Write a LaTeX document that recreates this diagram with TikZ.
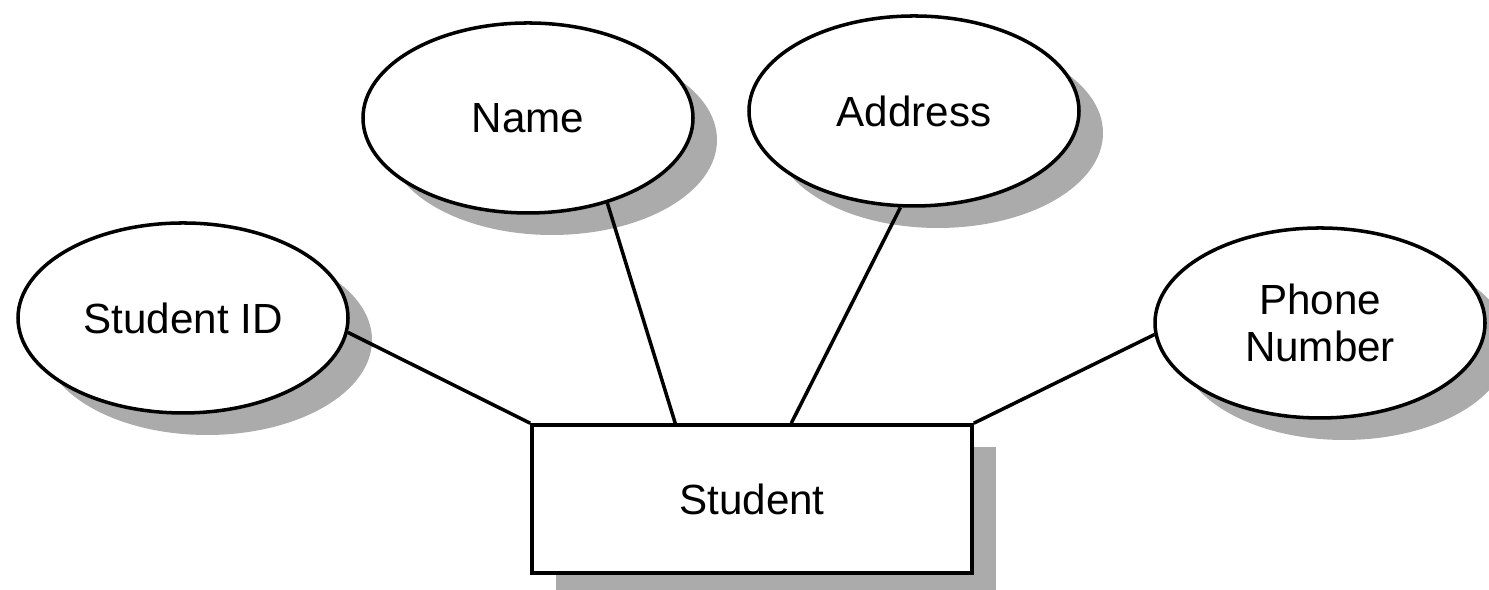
\documentclass[tikz,border=0pt]{standalone}
\usepackage{fontspec}
\setmainfont{Liberation Sans}
\usetikzlibrary{positioning,shapes.geometric,shadows}
\tikzset{
  shd/.style={drop shadow={shadow xshift=0.24cm,shadow yshift=-0.22cm,fill=black!33,opacity=1}},
  attr/.style={ellipse,draw,line width=1pt,fill=white,shd,minimum width=3.3cm,minimum height=1.9cm,inner sep=0pt,align=center,font=\fontsize{12}{13.5}\selectfont},
  ent/.style={rectangle,draw,line width=1pt,fill=white,shd,minimum width=4.4cm,minimum height=1.48cm,inner sep=0pt,font=\fontsize{12}{13.5}\selectfont},
  conn/.style={line width=1pt}
}
\begin{document}
\begin{tikzpicture}
  \useasboundingbox (0,0) rectangle (14.89,5.90);
  \node[attr] (name) at (5.28,4.72) {Name}; \node[attr] (addr) at (9.14,4.79) {Address};
  \node[attr] (sid) at (1.83,2.72) {Student ID}; \node[attr] (phone) at (13.20,2.67) {Phone\\Number};
  \node[ent] (student) at (7.52,0.91) {Student};
  \coordinate (s1) at ([xshift=1.45cm]student.north west); \coordinate (s2) at ([xshift=2.61cm]student.north west);
  \draw[conn] (sid.-5.7) -- (student.north west); \draw[conn] (name.-47.5) -- (s1);
  \draw[conn] (addr.-98.5) -- (s2); \draw[conn] (phone.-176.6) -- (student.north east);
\end{tikzpicture}
\end{document}
